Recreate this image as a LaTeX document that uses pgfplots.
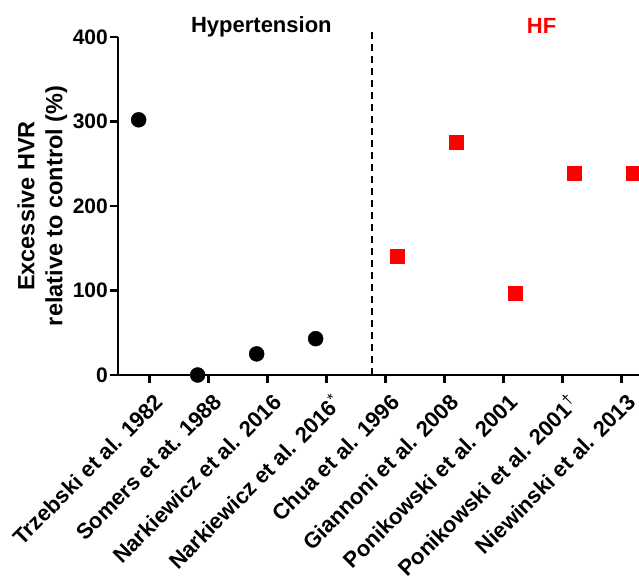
\documentclass[border=0pt]{standalone}
\usepackage{fontspec}
\setmainfont{Liberation Sans}
\usepackage{pgfplots}
\pgfplotsset{compat=1.18}
\definecolor{hfred}{RGB}{255,0,0}

\begin{document}
\begin{tikzpicture}
\begin{axis}[scale only axis,width=521pt,height=338pt,
xmin=-0.54,xmax=8.29,ymin=0,ymax=400,
axis x line=bottom,axis y line=left,
axis line style={line width=2.8pt,-},
every tick/.style={line width=2.8pt,black},
tick align=outside,major tick length=8pt,
ytick={0,100,200,300,400},
xtick={0,...,8},
xticklabels={Trzebski et al. 1982,Somers et at. 1988,Narkiewicz et al. 2016,
Narkiewicz et al. 2016\textsuperscript{\mdseries *},Chua et al. 1996,
Giannoni et al. 2008,Ponikowski et al. 2001,
Ponikowski et al. 2001\textsuperscript{\mdseries †},Niewinski et al. 2013},
/pgf/number format/assume math mode=true,
yticklabel style={font=\bfseries\fontsize{21}{21}\selectfont,inner sep=2pt},
xticklabel style={font=\bfseries\fontsize{22}{22}\selectfont,rotate=45,
anchor=north east,inner sep=2pt,yshift=-7pt,xshift=-2pt},
ylabel={Excessive HVR\\relative to control (\%)},
ylabel style={font=\bfseries\fontsize{23.5}{28}\selectfont,align=center},
clip=false]
\addplot[only marks,mark=*,mark size=7.5pt,black] coordinates {
(-0.19,302) (0.81,0) (1.81,25) (2.81,43)};
\addplot[only marks,mark=square*,mark size=7pt,hfred] coordinates {
(4.19,140) (5.19,275) (6.19,97) (7.19,239) (8.19,239)};
\draw[line width=2pt,dash pattern=on 7pt off 5pt] (axis cs:3.76,0) -- (axis cs:3.76,408);
\node[anchor=base,font=\bfseries\fontsize{22}{22}\selectfont,yshift=4pt]
at (axis cs:1.89,400) {Hypertension};
\node[anchor=base,font=\bfseries\fontsize{22}{22}\selectfont,yshift=3pt,text=hfred]
at (axis cs:6.64,400) {HF};
\end{axis}
\pgfresetboundingbox
\path ([xshift=-118pt,yshift=-201pt]current axis.south west) rectangle ([yshift=37pt]current axis.north east);
\end{tikzpicture}
\end{document}
